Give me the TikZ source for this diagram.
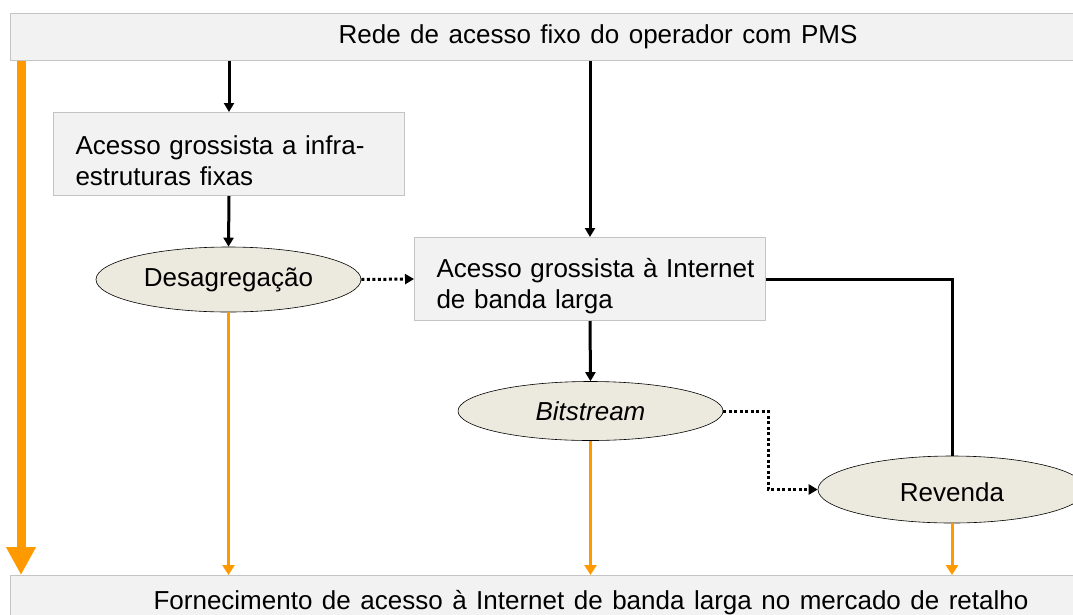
\documentclass[tikz,border=0pt]{standalone}
\usepackage{fontspec}
\setmainfont{Liberation Sans}
\usetikzlibrary{arrows.meta,shapes.geometric}
\definecolor{boxfill}{HTML}{F2F2F2}
\definecolor{boxline}{HTML}{C4C4C4}
\definecolor{ellfill}{HTML}{ECE9DE}
\definecolor{orng}{HTML}{FF9900}
\newcommand{\lblfont}{\fontsize{26}{31}\selectfont\spaceskip=9.5pt plus 1pt\relax}
\tikzset{
  box/.style={rectangle, fill=boxfill, draw=boxline, line width=1pt, inner sep=0pt},
  txtbox/.style={box, align=left, inner xsep=22pt, anchor=north west},
  ell/.style={ellipse, fill=ellfill, draw=black, line width=0.6pt, inner sep=0pt},
  arr/.style={line width=3pt, -{Triangle[width=10pt,length=9pt]}},
  dotarr/.style={line width=3pt, dash pattern=on 3pt off 2.5pt, -{Triangle[width=10pt,length=9pt]}},
  solid3/.style={line width=3pt},
  orarr/.style={draw=orng, line width=3pt, -{Triangle[width=12pt,length=10pt,fill=orng]}},
  bigor/.style={draw=orng, line width=9pt, -{Triangle[width=28pt,length=28pt,fill=orng]}},
  lbl/.style={font=\lblfont},
}
\begin{document}
\begin{tikzpicture}[x=1pt,y=-1pt]
\useasboundingbox (0,0) rectangle (1073,614);
\fill[white] (0,0) rectangle (1073,614);
% top and bottom bars
\node[box, anchor=north west, minimum width=1080pt, minimum height=47pt] (top) at (10,13) {};
\node[lbl] (toptxt) at (598,37) {Rede de acesso fixo do operador com PMS};
\node[box, anchor=north west, minimum width=1080pt, minimum height=50pt] (bot) at (10,575) {};
\node[lbl] (bottxt) at (591,603) {Fornecimento de acesso à Internet de banda larga no mercado de retalho};
% boxes
\node[txtbox, lbl, text width=307pt, minimum height=83pt] (infra) at (53,112) {\mbox{\rule{0pt}{32pt}Acesso grossista a infra-}\\\mbox{estruturas fixas}};
\node[txtbox, lbl, text width=307pt, minimum height=83pt] (bb) at (414,237) {\mbox{\rule{0pt}{34pt}Acesso grossista à Internet}\\\mbox{de banda larga}};
% ellipses
\node[ell, lbl, minimum width=265pt, minimum height=65pt] (des) at (228.5,279.5) {Desagregação};
\node[ell, lbl, minimum width=265pt, minimum height=59pt] (bit) at (590.5,411) {\itshape Bitstream};
\node[ell, lbl, minimum width=268pt, minimum height=67pt] (rev) at (952,489.5) {\rule{0pt}{24pt}Revenda};
% black connectors
\draw[arr] (top.south -| infra.north) -- (infra.north);
\draw[arr] (infra.south) -- (des.north);
\draw[arr] (top.south -| bb.north) -- (bb.north);
\draw[arr] (bb.south) -- (bit.north);
\draw[solid3] (bb.east) -| (rev.north);
\draw[dotarr] (des.east) -- (bb.west);
\draw[dotarr] (bit.east) -- ++(45,0) |- (rev.west);
% orange connectors
\draw[bigor] ([xshift=11pt]top.south west) -- ([xshift=11pt]bot.north west);
\draw[orarr] (des.south) -- (des.south |- bot.north);
\draw[orarr] (bit.south) -- (bit.south |- bot.north);
\draw[orarr] (rev.south) -- (rev.south |- bot.north);
\end{tikzpicture}
\end{document}
